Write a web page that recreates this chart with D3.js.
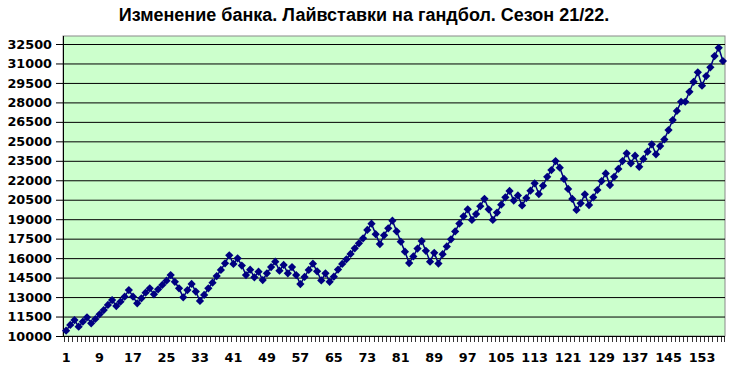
<!DOCTYPE html>
<html>
<head>
<meta charset="utf-8">
<script src="https://cdn.jsdelivr.net/npm/d3@7"></script>
<style>
  body { margin: 0; background: #fff; }
</style>
</head>
<body>
<div id="chart"></div>
<script>
const title = 'Изменение банка. Лайвставки на гандбол. Сезон 21/22.'

// bank after each bet
const bank = [
  10410, 10850, 11230, 10720, 11100, 11440, 10980, 11310, 11670, 12000,
  12390, 12770, 12310, 12640, 13030, 13540, 13030, 12520, 12900, 13340,
  13670, 13210, 13600, 13930, 14260, 14700, 14180, 13670, 12980, 13540,
  14010, 13420, 12700, 13160, 13670, 14110, 14620, 15090, 15600, 16220,
  15550, 15990, 15430, 14700, 15110, 14520, 14960, 14310, 14830, 15310,
  15730, 15030, 15480, 14830, 15310, 14700, 14000, 14550, 15090, 15570,
  14980, 14280, 14830, 14180, 14570, 15120, 15550, 15910, 16320, 16760,
  17140, 17530, 18170, 18650, 17850, 17080, 17760, 18300, 18890, 18070,
  17270, 16500, 15620, 16130, 16740, 17320, 16560, 15730, 16410, 15580,
  16300, 16900, 17450, 18060, 18660, 19220, 19760, 18940, 19400, 20000,
  20570, 19760, 18940, 19510, 20120, 20690, 21180, 20440, 20830, 20060,
  20630, 21200, 21770, 20940, 21580, 22270, 22790, 23480, 22970, 22100,
  21330, 20560, 19710, 20220, 20920, 20090, 20690, 21250, 21940, 22530,
  21630, 22270, 22870, 23480, 24080, 23310, 23890, 23040, 23640, 24200,
  24770, 24000, 24640, 25150, 25870, 26640, 27340, 28050, 28050, 28820,
  29590, 30320, 29290, 30030, 30700, 31570, 32210, 31190
]
const rounds = bank.map((d, i) => i + 1)

const yTicks = [10000, 11500, 13000, 14500, 16000, 17500, 19000, 20500,
  22000, 23500, 25000, 26500, 28000, 29500, 31000, 32500]
const xLabels = [1, 9, 17, 25, 33, 41, 49, 57, 65, 73, 81, 89, 97, 105,
  113, 121, 129, 137, 145, 153]

const W = 730, H = 369
const plot = { left: 63, right: 725, top: 36, bottom: 336 }

const svg = d3.select('#chart').append('svg')
  .attr('width', W)
  .attr('height', H)

const x = d3.scaleBand()
  .domain(rounds)
  .range([plot.left + 1, plot.right])
const y = d3.scaleLinear()
  .domain([10000, 32500])
  .range([plot.bottom, 44])

// title
svg.append('text')
  .attr('x', 364)
  .attr('y', 21)
  .attr('text-anchor', 'middle')
  .style('font-family', '"Liberation Sans", Arial, sans-serif')
  .style('font-weight', 'bold')
  .style('font-size', '18px')
  .text(title)

// plot background
svg.append('rect')
  .attr('x', plot.left)
  .attr('y', plot.top)
  .attr('width', plot.right - plot.left)
  .attr('height', plot.bottom - plot.top)
  .attr('fill', '#ccffcc')
  .attr('stroke', '#8a8a8a')
  .attr('stroke-width', 1)

// gridlines
svg.append('g')
  .attr('transform', `translate(${plot.left},0)`)
  .call(d3.axisLeft(y).tickValues(yTicks).tickSize(-(plot.right - plot.left)).tickFormat(''))
  .call(g => g.select('.domain').remove())
  .selectAll('line')
  .attr('stroke', '#000')
  .attr('stroke-width', 1)

// y axis
const yAxis = svg.append('g')
  .attr('transform', `translate(${plot.left},0)`)
  .call(d3.axisLeft(y).tickValues(yTicks).tickSize(7).tickPadding(4).tickFormat(d3.format('d')))
yAxis.select('.domain')
  .attr('d', `M0.5,${plot.top}V${plot.bottom}`)
  .attr('stroke', '#000')
yAxis.selectAll('text')
  .style('font-family', '"DejaVu Sans", Verdana, sans-serif')
  .style('font-weight', 'bold')
  .style('font-size', '12.8px')
  .attr('fill', '#000')

// x axis line + ticks at category boundaries
const xAxis = svg.append('g')
  .attr('transform', `translate(0,${plot.bottom})`)
xAxis.append('line')
  .attr('x1', plot.left)
  .attr('x2', plot.right)
  .attr('y1', 0.5)
  .attr('y2', 0.5)
  .attr('stroke', '#000')
xAxis.selectAll('line.tick')
  .data(rounds.concat(['end']))
  .join('line')
  .attr('class', 'tick')
  .attr('x1', d => d === 'end' ? plot.right - 0.5 : Math.round(x(d)) + 0.5)
  .attr('x2', d => d === 'end' ? plot.right - 0.5 : Math.round(x(d)) + 0.5)
  .attr('y1', 0)
  .attr('y2', 6)
  .attr('stroke', '#000')
  .attr('stroke-width', 0.8)

// x labels
svg.append('g')
  .attr('transform', `translate(0,${plot.bottom})`)
  .call(d3.axisBottom(x).tickValues(xLabels).tickSize(0).tickPadding(17))
  .call(g => g.select('.domain').remove())
  .selectAll('text')
  .style('font-family', '"DejaVu Sans", Verdana, sans-serif')
  .style('font-weight', 'bold')
  .style('font-size', '12.8px')
  .attr('fill', '#000')

// series
const cx = d => x(d) + x.bandwidth() / 2
svg.append('path')
  .datum(bank)
  .attr('fill', 'none')
  .attr('stroke', '#000080')
  .attr('stroke-width', 1.5)
  .attr('d', d3.line()
    .x((d, i) => cx(rounds[i]))
    .y(d => y(d)))

const diamond = d3.symbol().type(d3.symbolSquare).size(34)
svg.append('g')
  .selectAll('path')
  .data(bank)
  .join('path')
  .attr('d', diamond)
  .attr('transform', (d, i) => `translate(${cx(rounds[i])},${y(d)}) rotate(45)`)
  .attr('fill', '#000080')
</script>
</body>
</html>
